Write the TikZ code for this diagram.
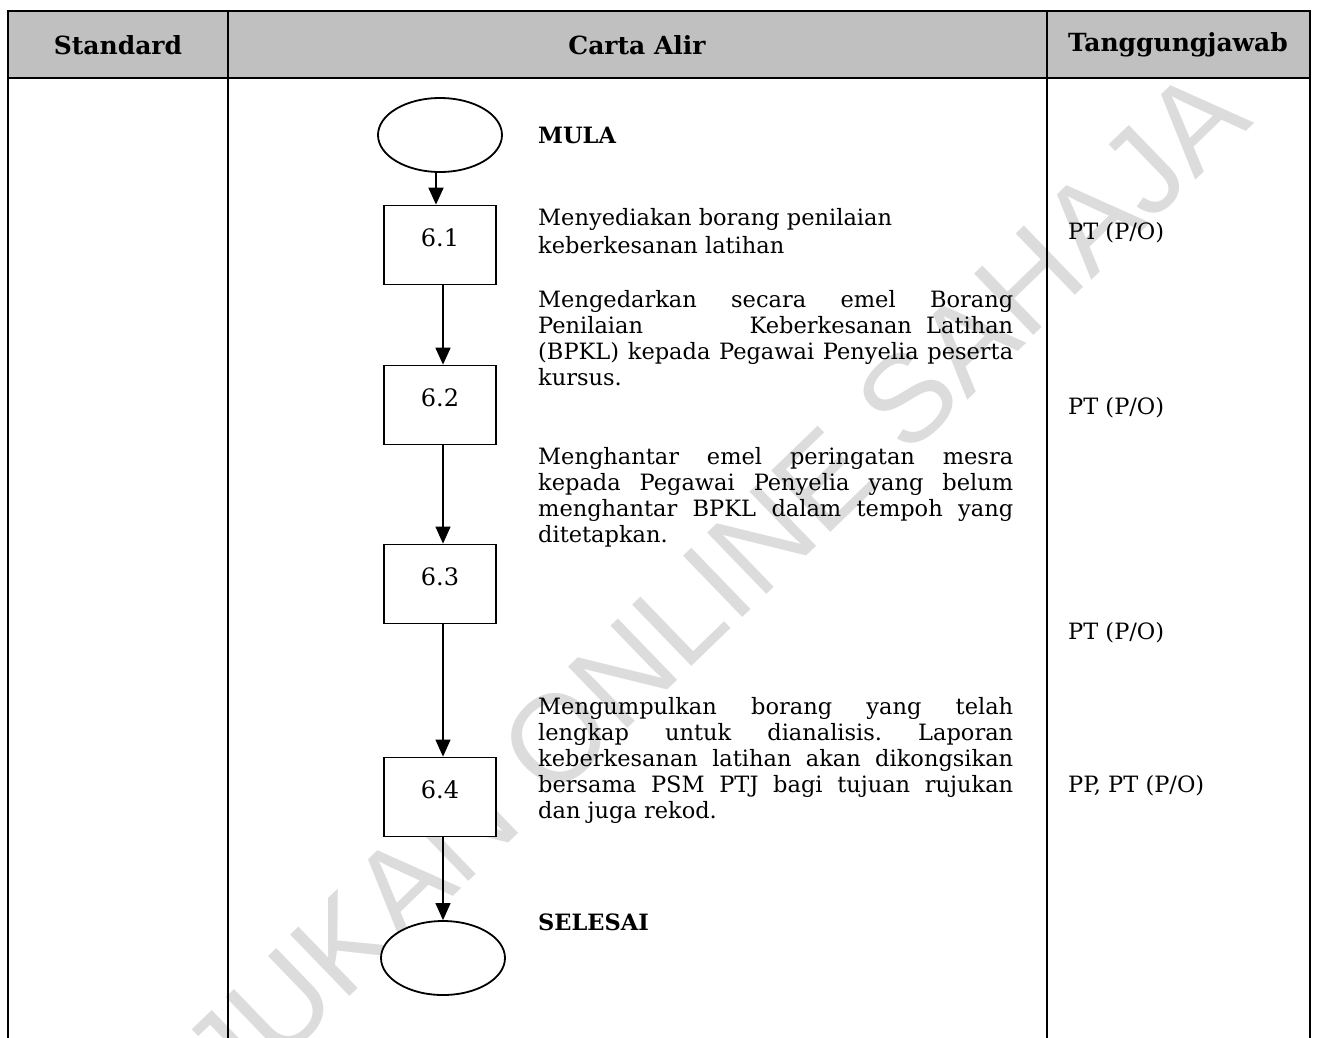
\documentclass[tikz,border=0pt]{standalone}
\usepackage{fontspec}
\setmainfont{DejaVu Serif}
\newfontfamily\wmfont{Liberation Sans}
\usetikzlibrary{arrows.meta,shapes.geometric}
\definecolor{hdrgray}{HTML}{C0C0C0}
\definecolor{wmgray}{HTML}{DCDCDC}
\newcommand\jlin[1]{\hbox to 475pt{#1}}
\newcommand\lelin[1]{\hbox to 475pt{#1\hfil}}
\frenchspacing
\begin{document}
\begin{tikzpicture}[x=1pt,y=-1pt,
  hdrtext/.style={font=\bfseries\fontsize{25}{29}\selectfont, inner sep=0pt},
  bodytext/.style={font=\fontsize{22.5}{26}\selectfont, inner sep=0pt, anchor=base west},
  boldlabel/.style={font=\bfseries\fontsize{22.5}{26}\selectfont, inner sep=0pt, anchor=base west},
  stepbox/.style={draw, line width=1.8pt, fill=white, minimum width=112pt, minimum height=79pt,
     inner sep=0pt, font=\fontsize{24}{28}\selectfont, text depth=15pt},
  term/.style={draw, ellipse, line width=1.8pt, fill=white, minimum width=124pt, minimum height=74pt, inner sep=0pt},
  flowthick/.style={draw, line width=1.8pt, -{Triangle[length=17pt,width=15pt]}},
  flowthin/.style={draw, line width=1.2pt, -{Triangle[length=17pt,width=15pt]}},
  rule/.style={line width=2.4pt},
  wm/.style={text=wmgray, font=\wmfont\fontsize{124}{124}\selectfont, inner sep=0pt}
]
\useasboundingbox (0,0) rectangle (1318,1037);
\clip (0,0) rectangle (1318,1037);

% watermark
\node[wm, rotate=44, anchor=base west] (mark) at (105,1233) {RUJUKAN ONLINE SAHAJA};

% table
\fill[hdrgray] (8,11) rectangle (1310,78);
\draw[rule] (8,1045) -- (8,11) -- (1310,11) -- (1310,1045);
\draw[rule] (8,78) -- (1310,78);
\draw[rule] (228,11) -- (228,1045);
\draw[rule] (1047,11) -- (1047,1045);

\node[hdrtext] (h1) at (118,45) {Standard};
\node[hdrtext] (h2) at (637,45) {Carta Alir};
\node[hdrtext] (h3) at (1178,45) {Tanggungjawab};

% flowchart shapes
\node[term] (start) at (440,135) {};
\node[stepbox] (s1) at (440,245) {6.1};
\node[stepbox] (s2) at (440,405) {6.2};
\node[stepbox] (s3) at (440,584) {6.3};
\node[stepbox] (s4) at (440,797) {6.4};
\node[term] (stop) at (443,958) {};

\draw[flowthick] ([xshift=-4pt]start.south) -- ([xshift=-4pt]s1.north);
\draw[flowthick] ([xshift=3pt]s1.south) -- ([xshift=3pt]s2.north);
\draw[flowthin] ([xshift=3pt]s2.south) -- ([xshift=3pt]s3.north);
\draw[flowthin] ([xshift=3pt]s3.south) -- ([xshift=3pt]s4.north);
\draw[flowthin] ([xshift=3pt]s4.south) -- (stop.north);

% descriptions
\node[boldlabel] (mula) at (538,143) {MULA};
\node[bodytext] (d1) at (538,225) {\vtop{\baselineskip=28pt
  \lelin{Menyediakan borang penilaian}
  \lelin{keberkesanan latihan}}};
\node[bodytext] (d2) at (538,307) {\vtop{\baselineskip=26pt
  \jlin{Mengedarkan secara emel Borang}
  \lelin{Penilaian\hfill Keberkesanan\ \ Latihan}
  \jlin{(BPKL) kepada Pegawai Penyelia peserta}
  \lelin{kursus.}}};
\node[bodytext] (d3) at (538,464) {\vtop{\baselineskip=26pt
  \jlin{Menghantar emel peringatan mesra}
  \jlin{kepada Pegawai Penyelia yang belum}
  \jlin{menghantar BPKL dalam tempoh yang}
  \lelin{ditetapkan.}}};
\node[bodytext] (d4) at (538,714) {\vtop{\baselineskip=26pt
  \jlin{Mengumpulkan borang yang telah}
  \jlin{lengkap untuk dianalisis. Laporan}
  \jlin{keberkesanan latihan akan dikongsikan}
  \jlin{bersama PSM PTJ bagi tujuan rujukan}
  \lelin{dan juga rekod.}}};
\node[boldlabel] (selesai) at (538,930) {SELESAI};

% responsibilities
\node[bodytext] (r1) at (1068,239) {PT (P/O)};
\node[bodytext] (r2) at (1068,414) {PT (P/O)};
\node[bodytext] (r3) at (1068,639) {PT (P/O)};
\node[bodytext] (r4) at (1068,792) {PP, PT (P/O)};
\end{tikzpicture}
\end{document}
